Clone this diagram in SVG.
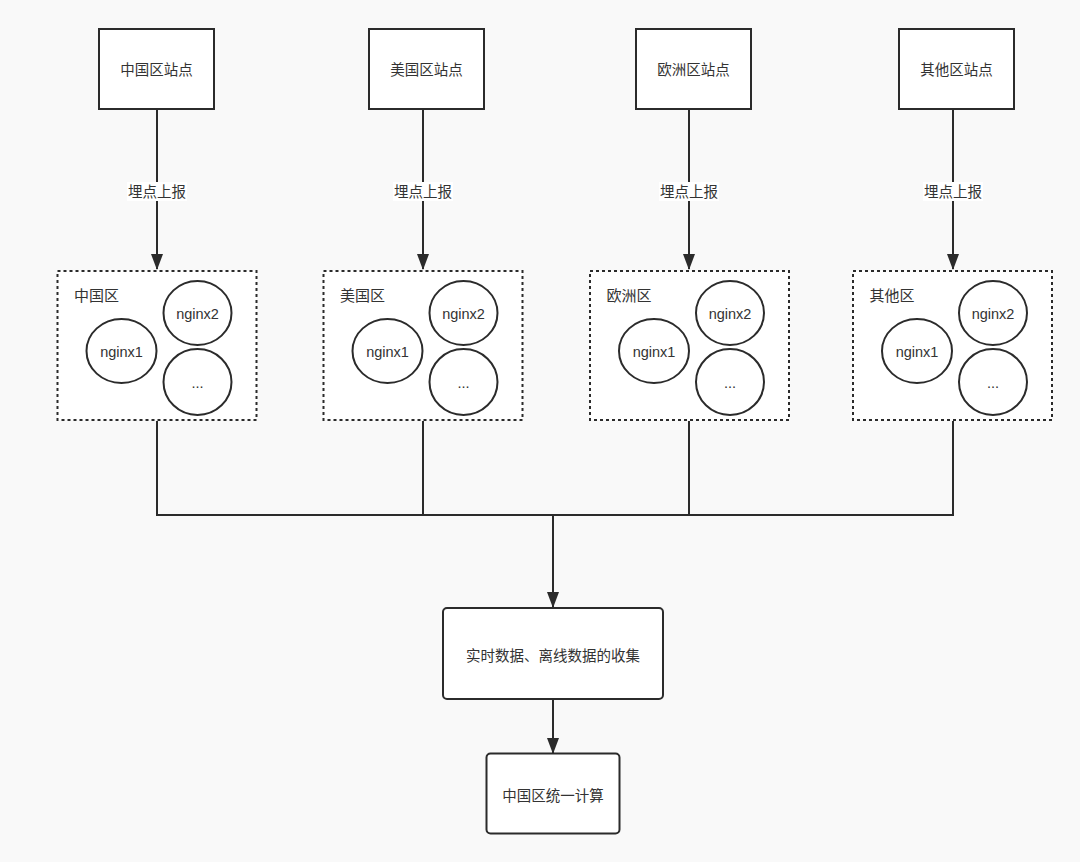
<svg xmlns="http://www.w3.org/2000/svg" width="1080" height="862" viewBox="0 0 1080 862">
<style>
text{font-family:"Liberation Sans","Noto Sans CJK SC",sans-serif;font-size:14.5px;fill:#333;text-anchor:middle;dominant-baseline:central}
.box{fill:#fff;stroke:#2b2b2b;stroke-width:2}
.grp{fill:#fff;stroke:#2b2b2b;stroke-width:2;stroke-dasharray:3 3}
.c{fill:#fff;stroke:#2b2b2b;stroke-width:2}
.ln{fill:none;stroke:#2b2b2b;stroke-width:2}
.gt{text-anchor:start;font-size:15px}
.lbl{fill:#fff}
</style>
<defs>
<marker id="ah" markerWidth="16" markerHeight="12" refX="15" refY="6" orient="auto" markerUnits="userSpaceOnUse" viewBox="0 0 16 12">
<path d="M0,0 L16,6 L0,12 Z" fill="#2b2b2b"/>
</marker>
<g id="zone">
<rect class="grp" x="0" y="0" width="199" height="149"/>
<ellipse class="c" cx="64" cy="80" rx="35" ry="32"/>
<text x="64" y="81">nginx1</text>
<ellipse class="c" cx="140" cy="42" rx="34" ry="32"/>
<text x="140" y="43">nginx2</text>
<ellipse class="c" cx="140" cy="111" rx="34" ry="33"/>
<text x="140" y="112">...</text>
</g>
</defs>
<rect width="1080" height="862" fill="#f9f9f9"/>
<g id="connectors">
<path class="ln" d="M157,109 V269" marker-end="url(#ah)"/>
<path class="ln" d="M423,109 V269" marker-end="url(#ah)"/>
<path class="ln" d="M689,109 V269" marker-end="url(#ah)"/>
<path class="ln" d="M953,109 V269" marker-end="url(#ah)"/>
<rect class="lbl" x="127" y="182" width="60" height="19"/>
<text x="157" y="191.5">埋点上报</text>
<rect class="lbl" x="393" y="182" width="60" height="19"/>
<text x="423" y="191.5">埋点上报</text>
<rect class="lbl" x="659" y="182" width="60" height="19"/>
<text x="689" y="191.5">埋点上报</text>
<rect class="lbl" x="923" y="182" width="60" height="19"/>
<text x="953" y="191.5">埋点上报</text>
<path class="ln" d="M157,421 V515 H953 V421 M423,421 V515 M689,421 V515"/>
<path class="ln" d="M553,515 V607" marker-end="url(#ah)"/>
<path class="ln" d="M553,700 V753" marker-end="url(#ah)"/>
</g>
<g id="site-cn"><rect class="box" x="99" y="29" width="115" height="80"/><text x="156.5" y="70">中国区站点</text></g>
<g id="site-us"><rect class="box" x="369" y="29" width="115" height="80"/><text x="426.5" y="70">美国区站点</text></g>
<g id="site-eu"><rect class="box" x="636" y="29" width="115" height="80"/><text x="693.5" y="70">欧洲区站点</text></g>
<g id="site-ot"><rect class="box" x="899" y="29" width="115" height="80"/><text x="956.5" y="70">其他区站点</text></g>
<g id="zone-cn"><use href="#zone" x="57.5" y="271"/><text class="gt" x="74" y="295">中国区</text></g>
<g id="zone-us"><use href="#zone" x="323.5" y="271"/><text class="gt" x="340" y="295">美国区</text></g>
<g id="zone-eu"><use href="#zone" x="590" y="271"/><text class="gt" x="606.5" y="295">欧洲区</text></g>
<g id="zone-ot"><use href="#zone" x="853" y="271"/><text class="gt" x="869.5" y="295">其他区</text></g>
<g id="collect"><rect class="box" x="443" y="608" width="220" height="91" rx="4"/><text x="553" y="655.5">实时数据、离线数据的收集</text></g>
<g id="compute"><rect class="box" x="486.5" y="753.5" width="133" height="80" rx="4"/><text x="553" y="796">中国区统一计算</text></g>
</svg>
